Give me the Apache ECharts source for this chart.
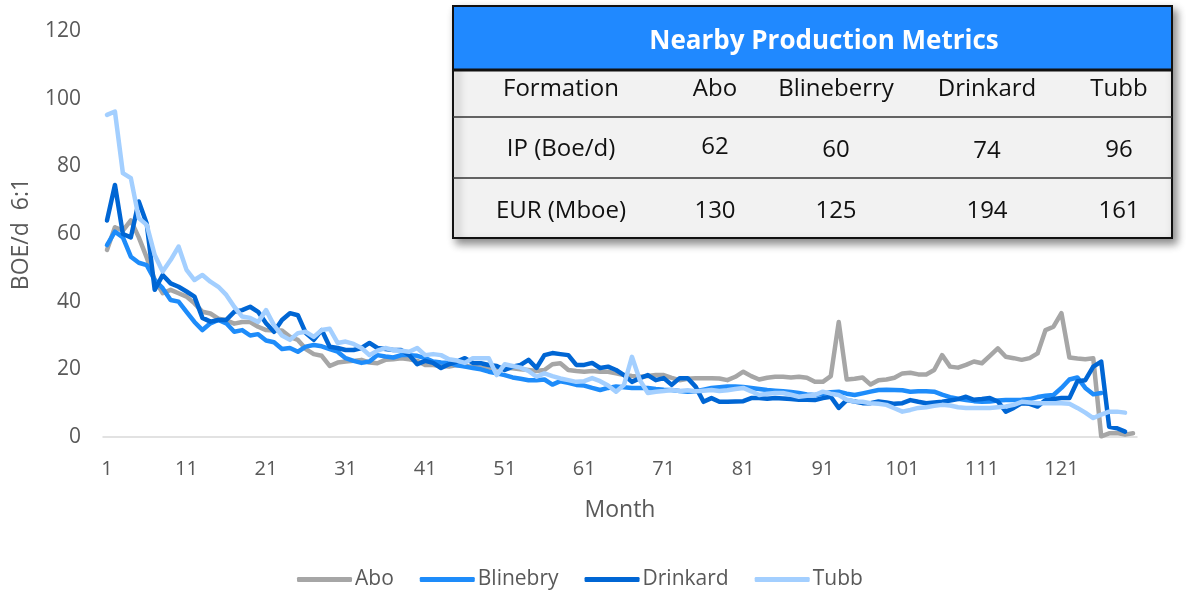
<!DOCTYPE html>
<html>
<head>
<meta charset="utf-8">
<script src="https://cdn.jsdelivr.net/npm/echarts@6/dist/echarts.min.js"></script>
<style>
html,body{margin:0;padding:0;background:#fff;}
#chart{width:1186px;height:590px;}
</style>
</head>
<body>
<div id="chart"></div>
<script>
// ---- data ----
var seriesNames = ['Abo', 'Blinebry', 'Drinkard', 'Tubb'];
var months = [];
for (var i = 1; i <= 130; i++) months.push(String(i));

var abo = [55.3,62,61,64,59,53,46.5,42.5,43.5,42.5,41.5,39.5,37,36.5,35,34.5,33.5,34,34,32.6,
31.6,31.5,31.5,29.6,28.7,26,24.5,24,21,22,22.3,22.5,22.8,22,21.8,22.8,23,23.3,23,22.5,
21.3,21.3,21,20.8,21.3,21,20.8,20.5,20.4,20.5,20.4,20.3,20,19.8,19.5,19.8,21.5,21.8,19.8,19.5,
19.3,19.5,19.3,19.3,18.8,18.3,18,17.8,18,18.3,18.3,17.5,16.8,17.2,17.4,17.4,17.4,17.3,16.8,17.8,
19.3,18,17,17.5,17.8,17.8,17.6,17.8,17.5,16.3,16.3,18,34,17,17.2,17.6,15.5,16.8,17,17.5,
18.8,19,18.5,18.5,19.8,24.2,20.8,20.5,21.3,22.3,21.8,24,26.2,23.7,23.3,22.8,23.3,24.7,31.6,32.6,
36.6,23.5,23.2,23,23.3,0.2,1.1,1.2,0.7,1.1];

var blinebry = [56.7,60.7,59,53.3,51.5,50.8,46.4,44,40.5,40,37,34,31.6,33.6,34.6,33.6,31.1,31.6,30,30.4,
28.5,28,26,26.3,25.2,26.7,27.2,26.8,26,25.2,23.3,22.5,21.9,22.3,24.2,23.8,23.5,24.2,24.2,24,
23.3,22.3,22,21.9,21.2,20.8,20.4,20,19.3,18.8,18.3,17.6,17.2,16.8,16.8,17,15.5,16.5,16,15.4,
15.2,14.5,13.9,14.5,14.9,14.7,14.5,14.5,14.5,14.2,14,13.9,13.6,13.4,13.5,14,14.5,14.7,14.9,14.9,
14.8,14.5,14.2,13.9,13.7,13.5,13.3,13,12.6,12.4,12.8,13.2,13.4,12.8,12.4,12.9,13.4,13.9,14,13.9,
13.8,13.4,13.5,13.5,13.4,12.5,11.8,11.3,10.9,10.6,10.4,10.5,10.8,10.9,10.9,11,11.2,11.8,12.2,12.4,
14.5,17,17.6,14.5,12.6,13,null,null,null,null];

var drinkard = [64,74.5,60,59,69.6,63,43.5,47.9,45.4,44.4,43,41.5,35.2,34.1,34.6,34.6,37,37.5,38.5,37,
33.6,31.1,34.6,36.6,36,30.7,28.7,31.6,26.7,26.3,25.7,25.7,26.3,27.8,26.3,26,25.7,25.7,24.2,21.5,
22.5,21.9,20.4,21.5,22.3,23.3,21.9,21.8,21.3,21,19.8,20.8,21.3,22.8,20.4,24.2,24.8,24.5,24.2,21.3,
21.3,21.9,20.4,20.8,19.8,18.3,16.3,17.4,18.3,16.8,17.4,15.4,17.4,17.4,14.9,10.4,11.5,10.4,10.4,10.5,
10.6,11.5,11.5,11.3,11.5,11.4,11.2,11,11,10.9,11.5,11.9,8.6,10.9,10.5,10,10,10.5,10.2,9.8,
10,10.9,10.4,10,10.2,10.4,10.8,11.2,11.9,11,11.2,11.5,10.5,7.5,8.6,10,9.8,9,10.9,11.2,
11.5,11.5,16.5,16.8,20.8,22.3,3,2.6,1.6,null];

var tubb = [95.2,96.2,78,76.5,64.7,62.7,53.8,48.9,52.3,56.3,49.4,46.4,47.9,45.9,44.4,42,38.5,35.6,35.2,34,
37.5,33,30,28.7,30.7,31.1,29.6,31.6,32,27.8,28.2,27.5,26.3,24.2,25.5,26.3,25.7,25.5,25.2,26.3,
24.2,24.5,24.2,23,22.6,21.9,23.3,23.3,23.3,18.3,21.5,21,20.5,19.5,17.8,18.8,18,17.3,16.8,16.3,
16.5,17.4,16.5,15.2,13.4,15.4,23.7,16.8,13,13.4,13.6,13.9,13.6,13.8,13.5,13.7,13.9,13.6,13.8,14.2,
14.5,13.5,12.4,12.8,13,13,12.5,11.9,12.2,12.4,13.4,12.8,12.4,11,10.5,10.4,10,9.8,9.5,8.5,
7.5,8,8.6,8.8,9.2,9.5,9.3,8.8,8.6,8.6,8.6,8.6,8.8,9,9.5,10.4,10.2,10,10,10,
10,9.8,8.6,7.2,5.6,6.6,7.5,7.5,7.2,null];

var yTicks = [0, 20, 40, 60, 80, 100, 120];

// ---- table data ----
var tableTitle = 'Nearby Production Metrics';
var tableHeader = ['Formation', 'Abo', 'Blineberry', 'Drinkard', 'Tubb'];
var ipRow = ['IP (Boe/d)', '62', '60', '74', '96'];
var eurRow = ['EUR (Mboe)', '130', '125', '194', '161'];

// ---- layout / style ----
var colors = ['#A6A6A6', '#1E8CFA', '#0066D4', '#A3CFFF'];
var FONT = '"Open Sans", "Noto Sans", sans-serif';
var tb = {left: 453, right: 1172, top: 6, headBottom: 70, rows: [70, 117, 178, 238]};
var colX = [561, 715, 836, 987, 1119];
var rowY = [89, 149, 211];
var ipYOffset = [0, -2, 1, 2, 1];

var chart = echarts.init(document.getElementById('chart'), null, {renderer: 'canvas'});

var dataSets = [abo, blinebry, drinkard, tubb];
var series = seriesNames.map(function (n, i) {
  return {
    name: n, type: 'line', data: dataSets[i], showSymbol: false, symbol: 'none',
    connectNulls: false, smooth: false,
    lineStyle: {color: colors[i], width: 4.5, cap: 'round', join: 'round'},
    itemStyle: {color: colors[i]},
    z: 2 + i
  };
});

var graphics = [];
graphics.push({
  type: 'rect', z: 100, silent: true,
  shape: {x: tb.left, y: tb.top, width: tb.right - tb.left, height: tb.rows[3] - tb.top},
  style: {fill: '#F2F2F2', stroke: '#111', lineWidth: 2,
    shadowBlur: 8, shadowOffsetX: 4, shadowOffsetY: 5, shadowColor: 'rgba(0,0,0,0.45)'}
});
graphics.push({
  type: 'rect', z: 101, silent: true,
  shape: {x: tb.left, y: tb.top, width: tb.right - tb.left, height: tb.headBottom - tb.top},
  style: {fill: '#2089FF', stroke: '#111', lineWidth: 2}
});
graphics.push({
  type: 'line', z: 102, silent: true,
  shape: {x1: tb.left, y1: tb.headBottom, x2: tb.right, y2: tb.headBottom},
  style: {stroke: '#111', lineWidth: 3}
});
[tb.rows[1], tb.rows[2]].forEach(function (yy) {
  graphics.push({
    type: 'line', z: 102, silent: true,
    shape: {x1: tb.left, y1: yy, x2: tb.right, y2: yy},
    style: {stroke: '#333', lineWidth: 1.5}
  });
});
graphics.push({
  type: 'text', z: 103, silent: true, x: 824, y: 42,
  style: {text: tableTitle, fill: '#fff', font: 'bold 26px ' + FONT, textAlign: 'center', textVerticalAlign: 'middle'}
});
[tableHeader, ipRow, eurRow].forEach(function (row, r) {
  row.forEach(function (cell, c) {
    graphics.push({
      type: 'text', z: 103, silent: true, x: colX[c], y: rowY[r] + (r === 1 ? ipYOffset[c] : 0),
      style: {text: cell, fill: '#111', font: '24px ' + FONT, textAlign: 'center', textVerticalAlign: 'middle'}
    });
  });
});

chart.setOption({
  animation: false,
  backgroundColor: '#fff',
  grid: {left: 103, right: 49, top: 31, bottom: 153, containLabel: false, outerBoundsMode: 'none'},
  legend: {
    data: seriesNames, top: 564, left: 292,
    icon: 'roundRect', itemWidth: 55, itemHeight: 5, itemGap: 26,
    textStyle: {color: '#595959', fontSize: 21, fontFamily: FONT, padding: [0, 0, 0, -2]}
  },
  xAxis: {
    type: 'category', data: months, boundaryGap: true,
    name: 'Month', nameLocation: 'middle', nameGap: 62,
    nameTextStyle: {color: '#595959', fontSize: 23, fontFamily: FONT},
    axisLine: {lineStyle: {color: '#D9D9D9', width: 1.5}},
    axisTick: {show: false},
    axisLabel: {interval: 9, color: '#595959', fontSize: 20, fontFamily: FONT, margin: 22}
  },
  yAxis: {
    type: 'value', min: 0, max: 120, interval: 20,
    name: 'BOE/d  6:1', nameLocation: 'middle', nameGap: 70, nameRotate: 90,
    nameTextStyle: {color: '#595959', fontSize: 23, fontFamily: FONT},
    axisLine: {show: false}, axisTick: {show: false}, splitLine: {show: false},
    axisLabel: {color: '#595959', fontSize: 21, fontFamily: FONT, margin: 22,
      formatter: function (v) { return yTicks.indexOf(v) >= 0 ? String(v) : ''; }}
  },
  series: series,
  graphic: graphics
});
</script>
</body>
</html>
